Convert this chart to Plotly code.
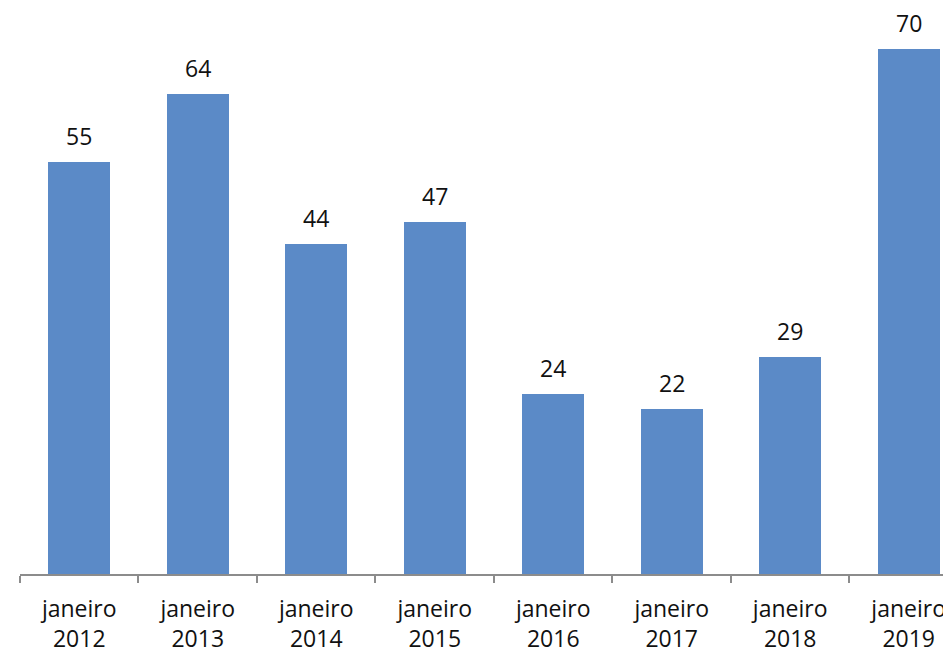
import plotly.graph_objects as go

categories = ["janeiro<br>2012", "janeiro<br>2013", "janeiro<br>2014", "janeiro<br>2015",
              "janeiro<br>2016", "janeiro<br>2017", "janeiro<br>2018", "janeiro<br>2019"]
values = [55, 64, 44, 47, 24, 22, 29, 70]

xs = list(range(len(categories)))
bar_color = "#5B8AC7"
font_family = "Open Sans, Liberation Sans, sans-serif"

fig = go.Figure()
fig.add_trace(go.Bar(x=xs, y=values, marker=dict(color=bar_color, line=dict(width=0)),
                     width=0.52, hoverinfo="skip"))

for x, v in zip(xs, values):
    fig.add_annotation(x=x, y=v, text=str(v), showarrow=False, yanchor="bottom",
                       yshift=8, font=dict(size=23, color="#111111", family=font_family))

fig.update_layout(
    width=951, height=654,
    margin=dict(l=12, r=8, t=4, b=88),
    paper_bgcolor="white", plot_bgcolor="white",
    showlegend=False,
    bargap=0,
    xaxis=dict(
        range=[-0.5, 7.357],
        tickmode="array", tickvals=xs, ticktext=categories,
        ticks="", showgrid=False, zeroline=False,
        showline=True, linecolor="#8C8C8C", linewidth=2,
        ticklabelstandoff=13,
        tickfont=dict(size=23, color="#111111", family=font_family),
        minor=dict(tickmode="array", tickvals=[i - 0.5 for i in range(9)],
                   ticks="outside", ticklen=7, tickcolor="#8C8C8C", tickwidth=2,
                   showgrid=False),
    ),
    yaxis=dict(range=[0, 75], visible=False, showgrid=False, zeroline=False),
)

fig.write_html("out.html")
